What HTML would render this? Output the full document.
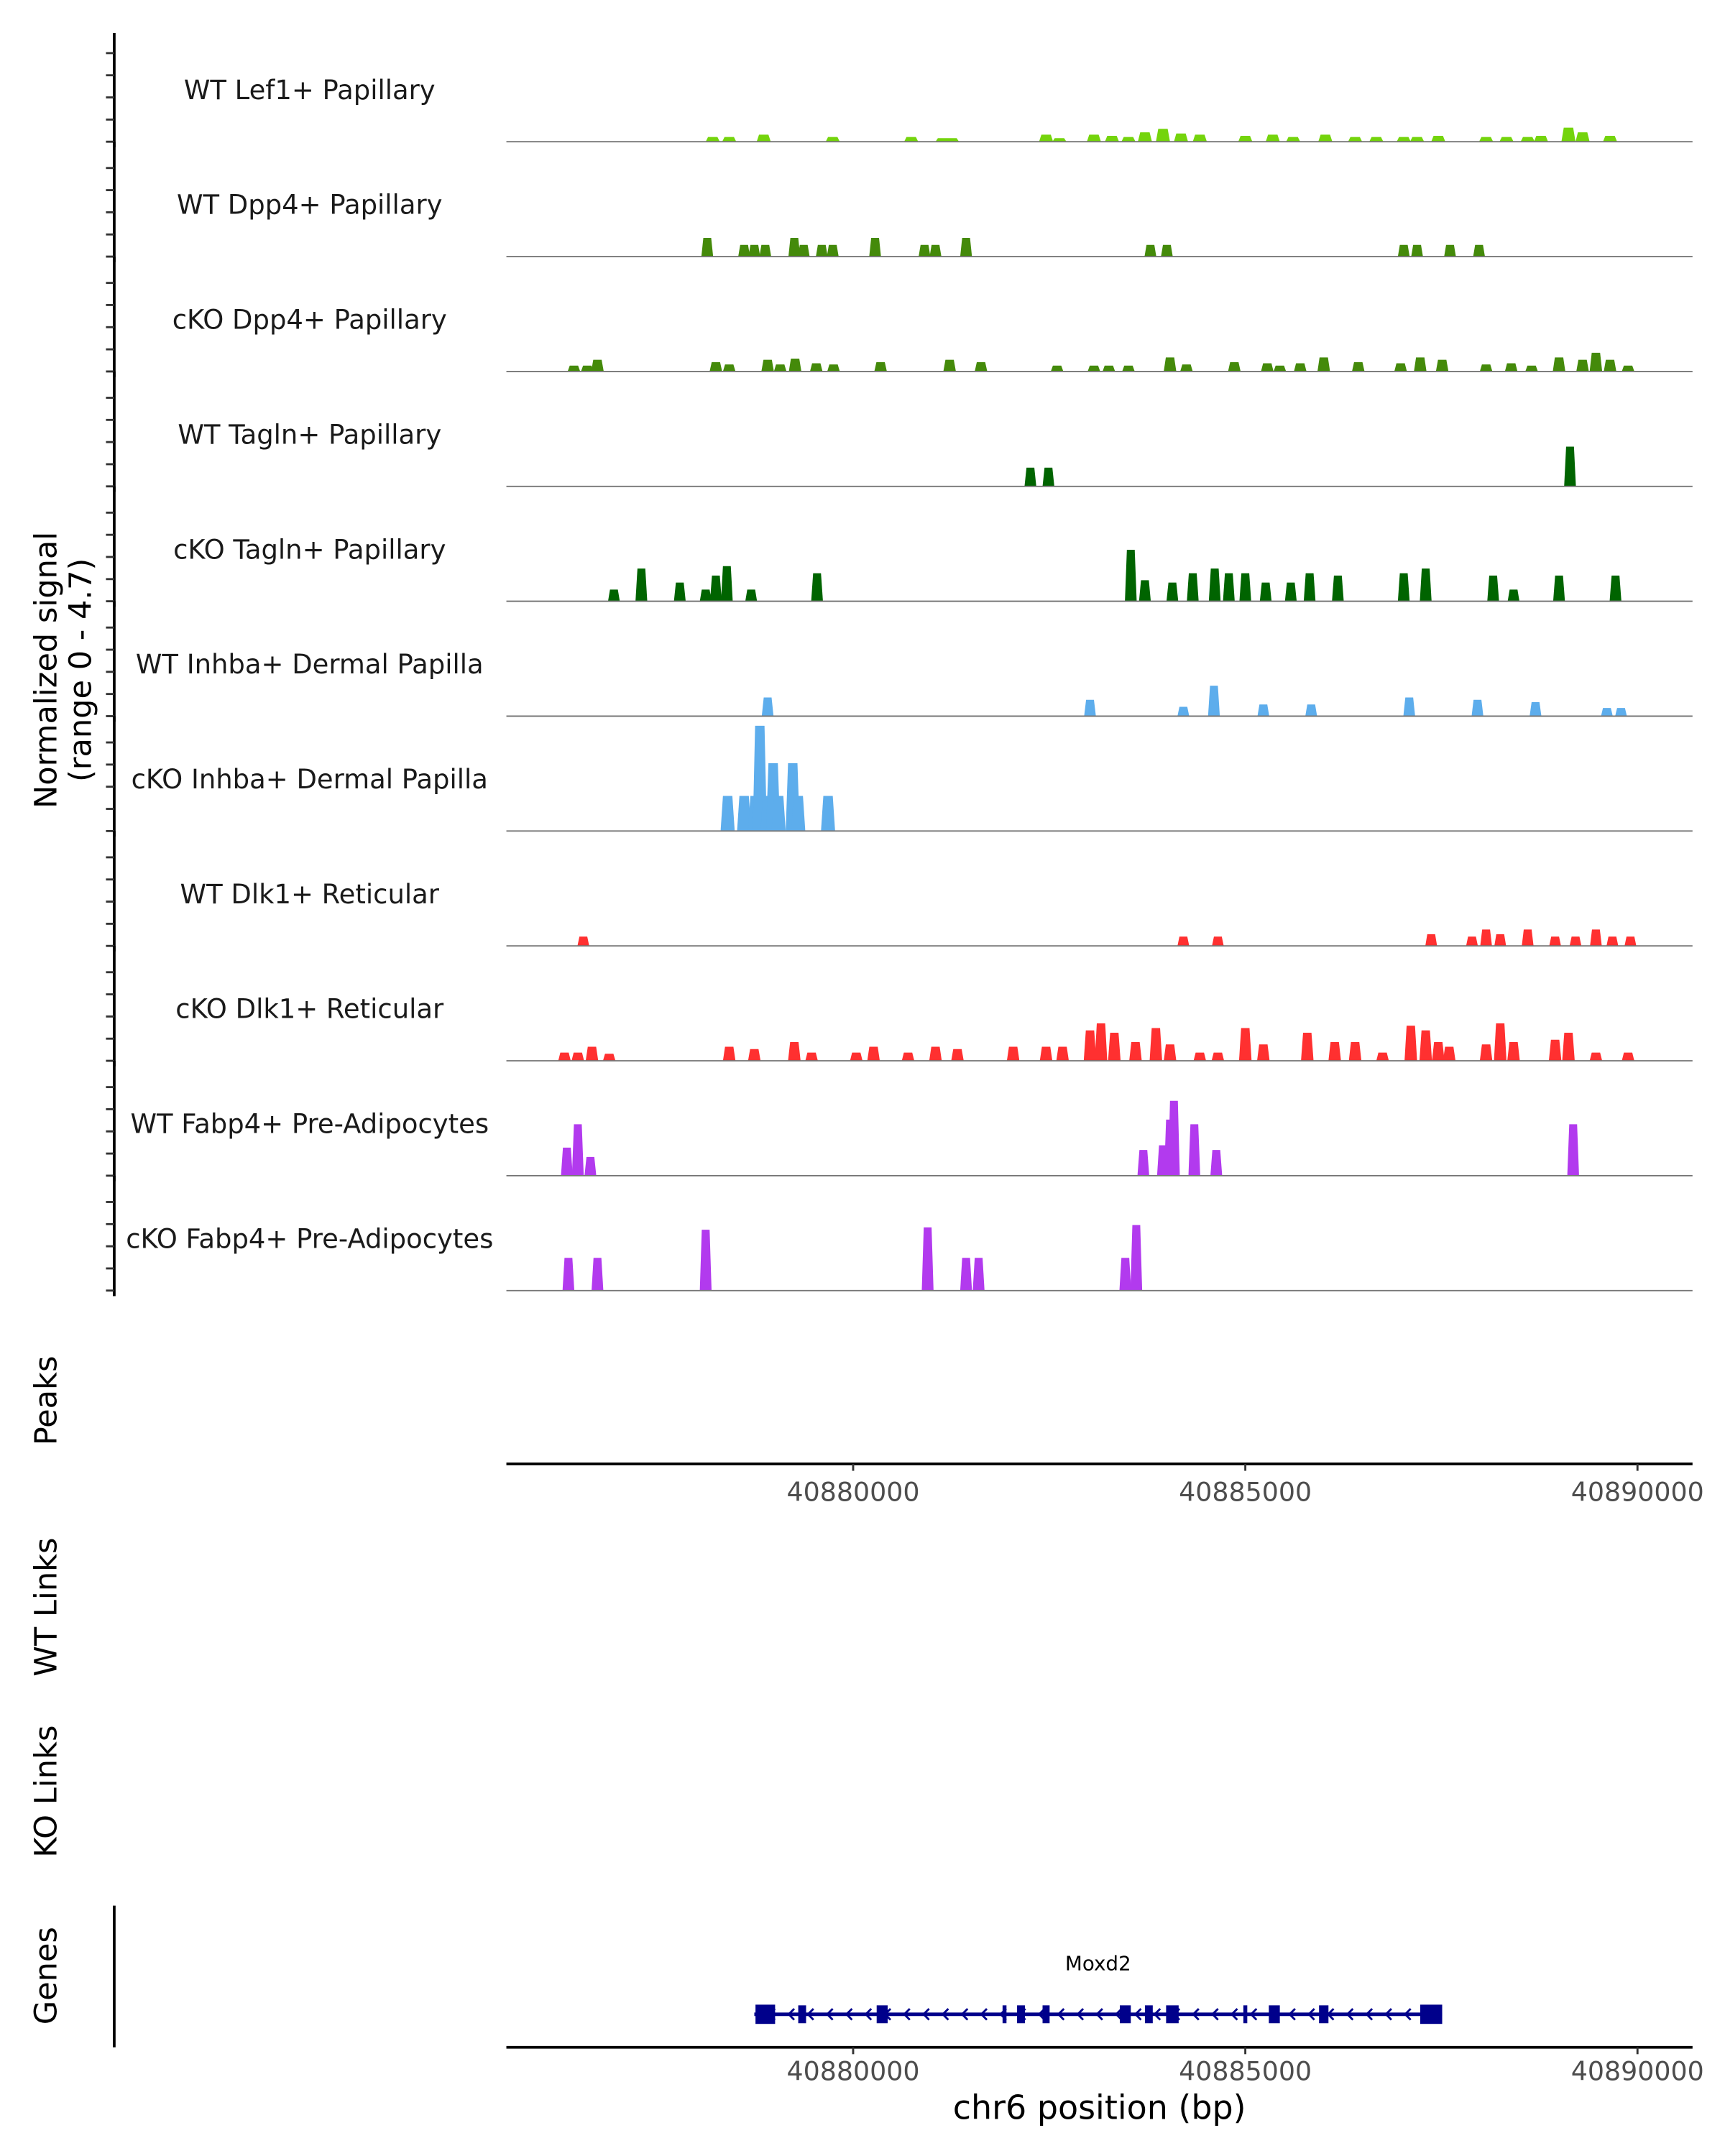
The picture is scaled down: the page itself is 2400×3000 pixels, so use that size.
<!DOCTYPE html>
<html><head><meta charset="utf-8"><style>
html,body{margin:0;padding:0;background:#fff}
svg{display:block}
text{font-family:"DejaVu Sans","Liberation Sans",sans-serif}
</style></head><body>
<svg id="chart" xmlns="http://www.w3.org/2000/svg" width="2400" height="3000" viewBox="0 0 1253.5 1567" preserveAspectRatio="xMinYMin meet">
<rect width="1260" height="1570" fill="#fff"/>
<g id="tracks"></g>
<g id="axes"></g>
<text transform="translate(41,487) rotate(-90)" text-anchor="middle" font-size="22.5" fill="#000">Normalized signal</text>
<text transform="translate(66,487) rotate(-90)" text-anchor="middle" font-size="22.5" fill="#000">(range 0 - 4.7)</text>
<text transform="translate(41,1018) rotate(-90)" text-anchor="middle" font-size="22.5">Peaks</text>
<text transform="translate(41,1168) rotate(-90)" text-anchor="middle" font-size="22.5">WT Links</text>
<text transform="translate(41,1302) rotate(-90)" text-anchor="middle" font-size="22.5">KO Links</text>
<text transform="translate(41,1436) rotate(-90)" text-anchor="middle" font-size="22.5">Genes</text>
<line x1="83" y1="1385" x2="83" y2="1488" stroke="#000" stroke-width="2"/>
<g id="gene"></g>
<text x="799" y="1540" text-anchor="middle" font-size="24">chr6 position (bp)</text>
</svg>
<script>
// genomic offsets in kb from 40880000; signal values in normalized units
const tickLabels=[40880000,40885000,40890000];
const lef1Pos=[-1.79,-1.58,-1.14,-0.26,0.74,1.14,1.26,2.46,2.63,3.07,3.30,3.51,3.72,3.95,4.18,4.42,5.00,5.35,5.61,6.02,6.40,6.67,7.02,7.19,7.46,8.07,8.33,8.60,8.77,9.12,9.30,9.65];
const lef1Val=[0.2,0.2,0.3,0.2,0.2,0.15,0.15,0.3,0.15,0.3,0.25,0.2,0.4,0.55,0.35,0.3,0.25,0.3,0.2,0.3,0.2,0.2,0.2,0.2,0.25,0.2,0.2,0.2,0.25,0.6,0.4,0.25];
const dpp4WtPos=[-1.86,-1.39,-1.26,-1.12,-0.75,-0.63,-0.40,-0.26,0.28,0.91,1.05,1.44,3.79,4.00,7.02,7.19,7.61,7.98];
const dpp4WtVal=[0.8,0.5,0.5,0.5,0.8,0.5,0.5,0.5,0.8,0.5,0.5,0.8,0.5,0.5,0.5,0.5,0.5,0.5];
const dpp4KoPos=[-3.56,-3.39,-3.26,-1.75,-1.58,-1.09,-0.93,-0.74,-0.47,-0.25,0.35,1.23,1.63,2.60,3.07,3.26,3.51,4.04,4.25,4.86,5.28,5.44,5.70,6.00,6.44,6.98,7.23,7.51,8.07,8.39,8.65,9.00,9.30,9.47,9.65,9.88];
const dpp4KoVal=[0.25,0.25,0.5,0.4,0.3,0.5,0.3,0.55,0.35,0.3,0.4,0.5,0.4,0.25,0.25,0.25,0.25,0.6,0.3,0.4,0.35,0.25,0.35,0.6,0.4,0.35,0.6,0.5,0.3,0.35,0.25,0.6,0.5,0.8,0.5,0.25];
const taglnWtPos=[2.26,2.49,9.14];
const taglnWtVal=[0.8,0.8,1.7];
const taglnKoPos=[-3.05,-2.70,-2.21,-1.88,-1.75,-1.61,-1.30,-0.46,3.54,3.72,4.07,4.33,4.61,4.79,5.00,5.26,5.58,5.82,6.18,7.02,7.30,8.16,8.42,9.00,9.72];
const taglnKoVal=[0.5,1.4,0.8,0.5,1.1,1.5,0.5,1.2,2.2,0.9,0.8,1.2,1.4,1.2,1.2,0.8,0.8,1.2,1.1,1.2,1.4,1.1,0.5,1.1,1.1];
const inhbaWtPos=[-1.09,3.02,4.21,4.60,5.23,5.84,7.09,7.96,8.70,9.61,9.79];
const inhbaWtVal=[0.8,0.7,0.4,1.3,0.5,0.5,0.8,0.7,0.6,0.35,0.35];
const inhbaKoPos=[-1.60,-1.39,-1.25,-1.19,-1.09,-1.02,-0.95,-0.77,-0.70,-0.32];
const inhbaKoVal=[1.5,1.5,1.5,4.5,1.5,2.9,1.5,2.9,1.5,1.5];
const dlk1WtPos=[-3.44,4.21,4.65,7.37,7.89,8.07,8.25,8.60,8.95,9.21,9.47,9.68,9.91];
const dlk1WtVal=[0.4,0.4,0.4,0.5,0.4,0.7,0.5,0.7,0.4,0.4,0.7,0.4,0.4];
const dlk1KoPos=[-3.68,-3.51,-3.33,-3.11,-1.58,-1.26,-0.75,-0.53,0.04,0.26,0.70,1.05,1.33,2.04,2.46,2.67,3.02,3.16,3.33,3.60,3.86,4.04,4.42,4.65,5.00,5.23,5.79,6.14,6.40,6.75,7.11,7.30,7.46,7.60,8.07,8.25,8.42,8.95,9.12,9.47,9.88];
const dlk1KoVal=[0.35,0.35,0.6,0.3,0.6,0.5,0.8,0.35,0.35,0.6,0.35,0.6,0.5,0.6,0.6,0.6,1.3,1.6,1.2,0.8,1.4,0.7,0.35,0.35,1.4,0.7,1.2,0.8,0.8,0.35,1.5,1.3,0.8,0.6,0.7,1.6,0.8,0.9,1.2,0.35,0.35];
const fabp4WtPos=[-3.65,-3.51,-3.35,3.70,3.95,4.04,4.09,4.35,4.63,9.18];
const fabp4WtVal=[1.2,2.2,0.8,1.1,1.3,2.4,3.2,2.2,1.1,2.2];
const fabp4KoPos=[-3.63,-3.26,-1.88,0.95,1.44,1.60,3.47,3.61];
const fabp4KoVal=[1.4,1.4,2.6,2.7,1.4,1.4,1.4,2.8];
const exonPos=[-1.12,-0.65,0.37,1.93,2.14,2.46,3.47,3.77,4.07,5.00,5.37,6.00,7.37];
const exonLen=[0.25,0.1,0.14,0.05,0.1,0.09,0.14,0.1,0.16,0.05,0.14,0.12,0.28];
const geneStartKb=-1.26, geneEndKb=7.51;

const NS='http://www.w3.org/2000/svg';
const px0=620, pxPerKb=57, unitPx=17;
function xs(kb){return px0+kb*pxPerKb;}
function el(tag,attrs,parent){const e=document.createElementNS(NS,tag);for(const k in attrs)e.setAttribute(k,attrs[k]);parent.appendChild(e);return e;}
const tracks=[
 ['WT Lef1+ Papillary','#74D40C',lef1Pos,lef1Val,0.18],
 ['WT Dpp4+ Papillary','#448A0A',dpp4WtPos,dpp4WtVal,0.15],
 ['cKO Dpp4+ Papillary','#448A0A',dpp4KoPos,dpp4KoVal,0.16],
 ['WT Tagln+ Papillary','#006400',taglnWtPos,taglnWtVal,0.15],
 ['cKO Tagln+ Papillary','#006400',taglnKoPos,taglnKoVal,0.15],
 ['WT Inhba+ Dermal Papilla','#5DADEC',inhbaWtPos,inhbaWtVal,0.15],
 ['cKO Inhba+ Dermal Papilla','#5DADEC',inhbaKoPos,inhbaKoVal,0.18],
 ['WT Dlk1+ Reticular','#FF3030',dlk1WtPos,dlk1WtVal,0.15],
 ['cKO Dlk1+ Reticular','#FF3030',dlk1KoPos,dlk1KoVal,0.16],
 ['WT Fabp4+ Pre-Adipocytes','#B23AEE',fabp4WtPos,fabp4WtVal,0.15],
 ['cKO Fabp4+ Pre-Adipocytes','#B23AEE',fabp4KoPos,fabp4KoVal,0.15]
];
const tg=document.getElementById('tracks');
const ag=document.getElementById('axes');
tracks.forEach((t,i)=>{
  const base=103+i*83.5;
  const g=el('g',{},tg);
  
  
  const lab=el('text',{x:225,y:base-31,'text-anchor':'middle','font-size':'19.3',fill:'#1a1a1a'},g);
  lab.textContent=t[0];
  
  
  t[2].forEach((p,j)=>{
    const w=t[4]*pxPerKb, x=xs(p), h=t[3][j]*unitPx;
    const poly=el('polygon',{points:`${x-w/2},${base} ${x-w/3},${base-h} ${x+w/3},${base-h} ${x+w/2},${base}`,fill:t[1]},g);
    
    
  });
  const bl=el('line',{x1:368,x2:1230,y1:base,y2:base,stroke:'#777','stroke-width':1},g);
  
  
  const top=i===0?24:base-83.5;
  const ax=el('line',{x1:83,x2:83,y1:top,y2:base+4,stroke:'#000','stroke-width':2},ag);
  
  
  for(let k=0;k<5;k++){
    const ty=base-k*16.1;
    const tk=el('line',{x1:77,x2:83,y1:ty,y2:ty,stroke:'#333','stroke-width':1.5},ag);
    
    
  }
});
[[1064,1091],[1488,1512]].forEach((a,i)=>{
  const ln=el('line',{x1:368,x2:1230,y1:a[0],y2:a[0],stroke:'#000','stroke-width':2},ag);
  
  
  tickLabels.forEach(v=>{
    const x=xs((v-40880000)/1000);
    const tk=el('line',{x1:x,x2:x,y1:a[0],y2:a[0]+5,stroke:'#333','stroke-width':1.5},ag);
    
    
    const tx=el('text',{x:x,y:a[1],'text-anchor':'middle','font-size':'19',fill:'#4d4d4d'},ag);
    tx.textContent=v;
    
    
  });
});
const gg=document.getElementById('gene');
const gy=1464, navy='#00008B';
const gl=el('line',{x1:xs(geneStartKb),x2:xs(geneEndKb),y1:gy,y2:gy,stroke:navy,'stroke-width':2.5},gg);


for(let x=xs(geneStartKb)+12;x<xs(geneEndKb)-12;x+=14){
  const c=el('polyline',{points:`${x+3},${gy-4} ${x-1},${gy} ${x+3},${gy+4}`,fill:'none',stroke:navy,'stroke-width':1.5},gg);
  
  
}
exonPos.forEach((p,j)=>{
  const w=exonLen[j]*pxPerKb, big=(j===0||j===exonPos.length-1);
  const h=big?14:13;
  const r=el('rect',{x:xs(p)-w/2,y:gy-h/2,width:w,height:h,fill:navy},gg);
  
  
});
const gn=el('text',{x:798,y:1432,'text-anchor':'middle','font-size':'14.5',fill:'#000'},gg);
gn.textContent='Moxd2';


</script>
</body></html>
